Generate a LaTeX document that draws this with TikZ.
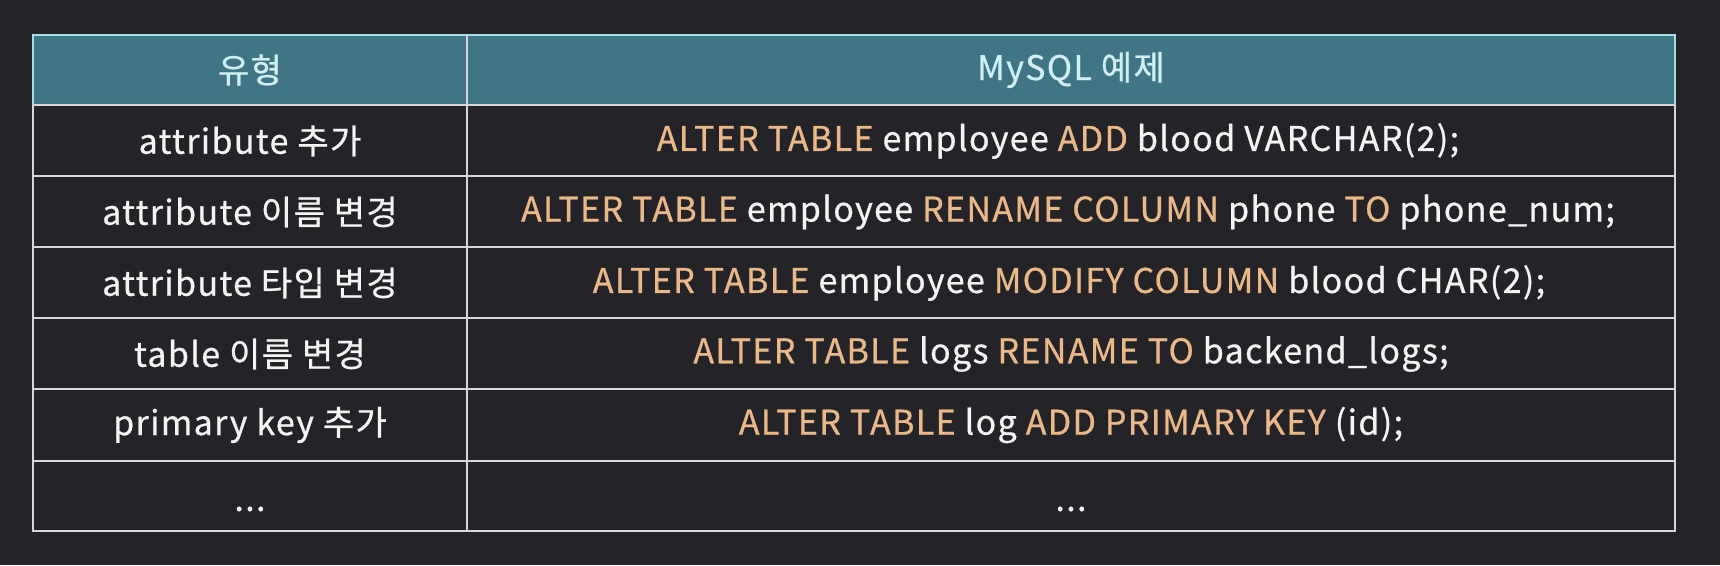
\documentclass[tikz,border=0pt]{standalone}
\usepackage{fontspec}
\setmainfont{Noto Sans CJK KR}[LetterSpace=4,FakeBold=0.7]
\definecolor{bg}{HTML}{242327}
\definecolor{head}{HTML}{3F7585}
\definecolor{headline}{HTML}{A8DCE6}
\definecolor{headtxt}{HTML}{CFEFF5}
\definecolor{grid}{HTML}{D6D6D6}
\definecolor{kwc}{HTML}{E9B98A}
\definecolor{txt}{HTML}{F4F4F4}
\newcommand{\kwd}[1]{\textcolor{kwc}{#1}}
\begin{document}
\begin{tikzpicture}[x=1pt,y=-1pt,
  cell/.style={text=txt,font=\fontsize{34}{40}\selectfont,inner sep=0pt,anchor=center},
  hcell/.style={text=headtxt,font=\fontsize{34}{40}\selectfont,inner sep=0pt,anchor=center},
  gridline/.style={draw=grid,line width=2.6pt}]
\fill[bg] (0,0) rectangle (1720,565);
\useasboundingbox (0,0) rectangle (1720,565);
\fill[head] (33,35) rectangle (1675,105);
% grid
\draw[gridline] (33,105) rectangle (1675,531);
\foreach \yy in {176,247,318,389,461} \draw[gridline] (33,\yy) -- (1675,\yy);
\draw[gridline] (467,35) -- (467,531);
\draw[draw=headline,line width=2.6pt] (33,105) -- (33,35) -- (1675,35) -- (1675,105);
% header
\node[hcell] (h1) at (250,70) {유형};
\node[hcell] (h2) at (1071,70) {MySQL 예제};
% rows
\node[cell] (a1) at (250,141) {attribute 추가};
\node[cell] (b1) at (1058,141) {\kwd{ALTER TABLE} employee \kwd{ADD} blood VARCHAR(2);};
\node[cell] (a2) at (250,212) {attribute 이름 변경};
\node[cell] (b2) at (1068,212) {\kwd{ALTER TABLE} employee \kwd{RENAME COLUMN} phone \kwd{TO} phone\_num;};
\node[cell] (a3) at (250,283) {attribute 타입 변경};
\node[cell] (b3) at (1069,283) {\kwd{ALTER TABLE} employee \kwd{MODIFY COLUMN} blood CHAR(2);};
\node[cell] (a4) at (250,354) {table 이름 변경};
\node[cell] (b4) at (1071,354) {\kwd{ALTER TABLE} logs \kwd{RENAME TO} backend\_logs;};
\node[cell] (a5) at (250,425) {primary key 추가};
\node[cell] (b5) at (1071,425) {\kwd{ALTER TABLE} log \kwd{ADD PRIMARY KEY} (id);};
\node[cell] (a6) at (250,509) {...};
\node[cell] (b6) at (1071,509) {...};
\end{tikzpicture}
\end{document}
